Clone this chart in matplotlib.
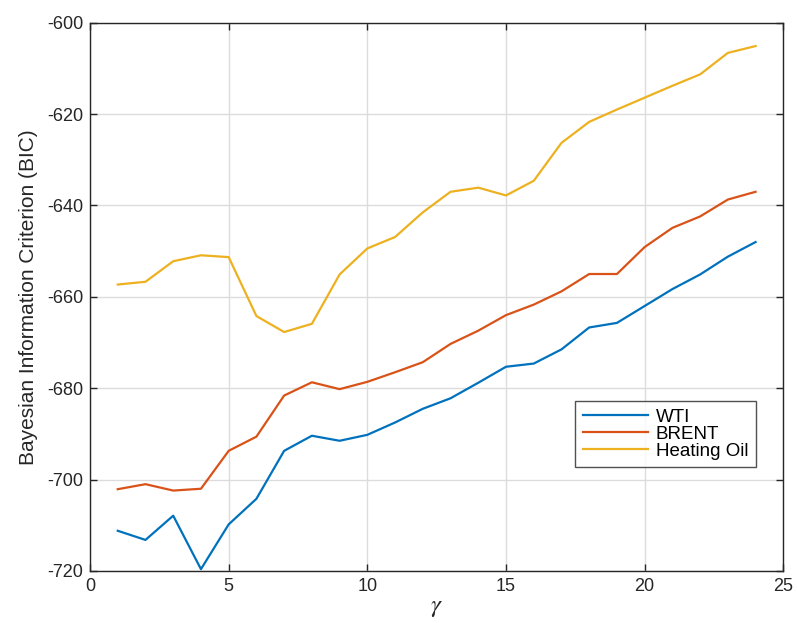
import matplotlib
matplotlib.use('Agg')
import matplotlib.pyplot as plt
import numpy as np

plt.rcParams['font.family'] = ['Liberation Sans', 'DejaVu Sans']
plt.rcParams['mathtext.fontset'] = 'stix'
plt.rcParams['axes.unicode_minus'] = False

gamma = np.arange(1, 25)
wti = [-711.2, -713.2, -707.9, -719.6, -709.8, -704.2, -693.7, -690.4, -691.5, -690.2,
       -687.5, -684.5, -682.2, -678.8, -675.3, -674.6, -671.5, -666.7, -665.7, -662.0,
       -658.3, -655.1, -651.2, -648.0]
brent = [-702.1, -701.0, -702.4, -702.0, -693.7, -690.6, -681.6, -678.7, -680.2, -678.6,
         -676.5, -674.3, -670.3, -667.4, -664.0, -661.7, -658.8, -655.0, -655.0, -649.1,
         -644.9, -642.4, -638.7, -637.0]
heating_oil = [-657.3, -656.7, -652.2, -650.9, -651.3, -664.2, -667.7, -665.9, -655.1, -649.4,
               -646.9, -641.5, -637.0, -636.1, -637.8, -634.6, -626.3, -621.7, -619.0, -616.4,
               -613.8, -611.3, -606.6, -605.1]

fig = plt.figure(figsize=(7.98, 6.23), dpi=100)
ax = fig.add_axes([0.1128, 0.0835, 0.8688, 0.880])

ax.plot(gamma, wti, color='#0072BD', lw=1.6, label='WTI')
ax.plot(gamma, brent, color='#D95319', lw=1.6, label='BRENT')
ax.plot(gamma, heating_oil, color='#EDB120', lw=1.6, label='Heating Oil')

ax.set_xlim(0, 25)
ax.set_ylim(-720, -600)
ax.set_xticks(np.arange(0, 26, 5))
ax.set_yticks(np.arange(-720, -599, 20))
ax.grid(True, color='#dcdcdc', lw=1)
ax.set_axisbelow(True)
for s in ax.spines.values():
    s.set_color('#262626')
    s.set_linewidth(1)
ax.tick_params(direction='in', top=True, right=True, length=5, width=1,
               color='#262626', labelsize=13, labelcolor='#262626', pad=5)

ax.set_xlabel(r'$\gamma$', fontsize=18, color='#262626', labelpad=0)
ax.set_ylabel('Bayesian Information Criterion (BIC)', fontsize=15, color='#262626', labelpad=6)

leg = ax.legend(loc='upper left', bbox_to_anchor=(0.700, 0.310),
                fontsize=13.5, frameon=True, fancybox=False, handlelength=3.5,
                borderpad=0.4, labelspacing=0.0, handletextpad=0.4, borderaxespad=0)
leg.get_frame().set_edgecolor('#262626')
leg.get_frame().set_linewidth(1)

fig.savefig('out.png', dpi=100)
